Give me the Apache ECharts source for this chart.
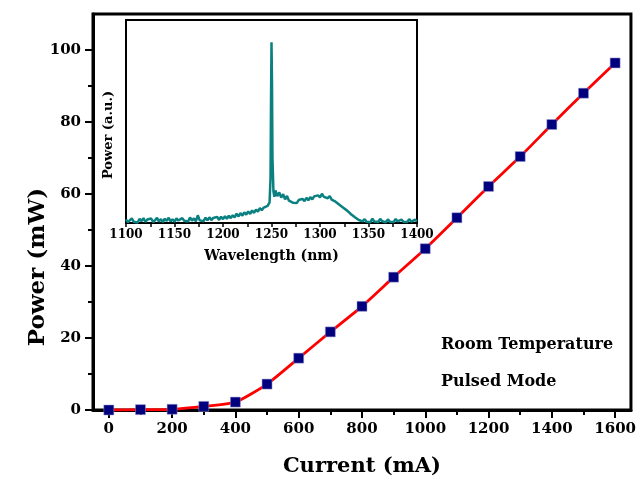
<!DOCTYPE html>
<html>
<head>
<meta charset="utf-8">
<script src="https://cdn.jsdelivr.net/npm/echarts@6/dist/echarts.min.js"></script>
<style>
  html, body { margin: 0; padding: 0; background: #fff; }
  #main { width: 639px; height: 486px; }
</style>
</head>
<body>
<div id="main"></div>
<script>
// L-I curve (main)
const current = [0, 100, 200, 300, 400, 500, 600, 700, 800, 900, 1000, 1100, 1200, 1300, 1400, 1500, 1600];
const power = [0, 0.1, 0.2, 1.0, 2.2, 7.2, 14.4, 21.7, 28.8, 36.9, 44.8, 53.4, 62.1, 70.4, 79.3, 88.0, 96.4];
const xMajorTicks = [0, 200, 400, 600, 800, 1000, 1200, 1400, 1600];
const xMinorTicks = [100, 300, 500, 700, 900, 1100, 1300, 1500];
const yMajorTicks = [0, 20, 40, 60, 80, 100];
const yMinorTicks = [10, 30, 50, 70, 90];

// inset spectrum
const wavelength = [
  1100, 1102, 1104, 1106, 1108, 1110, 1112, 1114, 1116, 1118, 1120, 1122, 1124, 1126, 1128, 1130,
  1132, 1134, 1136, 1138, 1140, 1142, 1144, 1146, 1148, 1150, 1152, 1154, 1156, 1158, 1160, 1162,
  1164, 1166, 1168, 1170, 1172, 1174, 1176, 1178, 1180, 1182, 1184, 1186, 1188, 1190, 1192, 1194,
  1196, 1198, 1200, 1202, 1204, 1206, 1208, 1210, 1212, 1214, 1216, 1218, 1220, 1222, 1224, 1226,
  1228, 1230, 1232, 1234, 1236, 1238, 1240, 1242, 1244, 1246, 1247, 1248, 1249, 1249.5, 1250, 1250.5,
  1251, 1252, 1253, 1254, 1256, 1258, 1260, 1262, 1264, 1266, 1268, 1270, 1272, 1274, 1276, 1278,
  1280, 1282, 1284, 1286, 1288, 1290, 1292, 1294, 1296, 1298, 1300, 1302, 1304, 1306, 1308, 1310,
  1312, 1314, 1316, 1318, 1320, 1322, 1324, 1326, 1328, 1330, 1332, 1334, 1336, 1338, 1340, 1342,
  1344, 1346, 1348, 1350, 1352, 1354, 1356, 1358, 1360, 1362, 1364, 1366, 1368, 1370, 1372, 1374,
  1376, 1378, 1380, 1382, 1384, 1386, 1388, 1390, 1392, 1394, 1396, 1398, 1400
];
const intensity = [
  1.8, 0.4, 1.2, 2.3, 0.6, 1.5, 0.3, 2.0, 0.9, 2.4, 0.5, 1.7, 0.8, 2.2, 0.4, 1.4,
  2.5, 0.7, 1.9, 0.5, 2.1, 1.0, 2.6, 0.8, 1.8, 0.6, 2.3, 1.2, 0.5, 2.4, 1.1, 2.0,
  0.7, 2.7, 1.2, 2.3, 0.8, 3.8, 1.3, 2.2, 0.9, 2.6, 1.3, 2.8, 1.4, 2.5, 1.6, 3.0,
  1.5, 3.1, 1.9, 3.3, 2.1, 3.6, 2.4, 3.8, 2.8, 4.6, 3.2, 4.9, 3.6, 5.3, 4.1, 5.7,
  4.5, 6.2, 5.0, 6.6, 5.6, 7.4, 6.3, 7.6, 6.8, 8.4, 8.6, 10.2, 22, 60, 89, 70,
  32, 15.5, 12.9, 16.0, 13.2, 15.1, 12.5, 14.2, 11.7, 13.3, 11.0, 11.8, 10.0, 10.9, 9.8, 11.3,
  10.4, 11.9, 10.8, 12.4, 11.2, 12.8, 11.6, 13.1, 12.2, 13.6, 12.6, 14.4, 12.9, 13.8, 12.2, 13.3,
  11.5, 12.2, 10.5, 11.0, 9.0, 9.6, 7.5, 8.0, 6.1, 6.3, 4.3, 4.9, 2.8, 3.1, 1.5, 2.2,
  0.8, 1.9, 0.6, 1.5, 0.4, 2.1, 0.7, 1.4, 0.5, 2.0, 0.9, 1.6, 0.4, 1.8, 0.6, 1.3,
  0.5, 2.0, 0.8, 0.4, 1.7, 0.6, 1.5, 0.5, 1.9, 0.7, 0.4, 1.6, 0.8
];

const font = 'DejaVu Serif';
const chart = echarts.init(document.getElementById('main'));

const liData = current.map((c, i) => [c, power[i]]);
const specData = wavelength.map((w, i) => [w, intensity[i]]);
const plain = v => String(v);

chart.setOption({
  backgroundColor: '#fff',
  animation: false,
  grid: [
    { left: 93, right: 8, top: 14, bottom: 76, show: true, borderColor: '#000', borderWidth: 3 },
    { left: 126, right: 222, top: 20, bottom: 263, show: true, borderColor: '#000', borderWidth: 2, backgroundColor: '#fff' }
  ],
  xAxis: [
    {
      gridIndex: 0, type: 'value', min: -50, max: 1650,
      axisLine: { onZero: false, lineStyle: { color: '#000', width: 3 } },
      axisTick: { customValues: xMajorTicks, length: 8, lineStyle: { color: '#000', width: 2 } },
      axisLabel: { customValues: xMajorTicks, formatter: plain, margin: 12, color: '#000', fontFamily: font, fontWeight: 'bold', fontSize: 15 },
      splitLine: { show: false },
      name: 'Current (mA)', nameLocation: 'middle', nameGap: 46,
      nameTextStyle: { color: '#000', fontFamily: font, fontWeight: 'bold', fontSize: 21 }
    },
    {
      gridIndex: 0, type: 'value', min: -50, max: 1650, position: 'bottom',
      axisLine: { show: false, onZero: false },
      axisTick: { customValues: xMinorTicks, length: 5, lineStyle: { color: '#000', width: 2 } },
      axisLabel: { show: false }, splitLine: { show: false }
    },
    {
      gridIndex: 1, type: 'value', min: 1100, max: 1400, interval: 50,
      axisLine: { onZero: false, lineStyle: { color: '#000', width: 2 } },
      axisTick: { length: 4, lineStyle: { color: '#000', width: 1.5 } },
      minorTick: { show: true, splitNumber: 2, length: 4, lineStyle: { color: '#000', width: 1.5 } },
      axisLabel: { formatter: plain, margin: 6, color: '#000', fontFamily: font, fontWeight: 'bold', fontSize: 12 },
      splitLine: { show: false },
      name: 'Wavelength (nm)', nameLocation: 'middle', nameGap: 26,
      nameTextStyle: { color: '#000', fontFamily: font, fontWeight: 'bold', fontSize: 14 }
    }
  ],
  yAxis: [
    {
      gridIndex: 0, type: 'value', min: 0, max: 110,
      axisLine: { onZero: false, lineStyle: { color: '#000', width: 3 } },
      axisTick: { customValues: yMajorTicks, length: 8, lineStyle: { color: '#000', width: 2 } },
      axisLabel: { customValues: yMajorTicks, formatter: plain, margin: 12, color: '#000', fontFamily: font, fontWeight: 'bold', fontSize: 15 },
      splitLine: { show: false }
    },
    {
      gridIndex: 0, type: 'value', min: 0, max: 110, position: 'left',
      axisLine: { show: false, onZero: false },
      axisTick: { customValues: yMinorTicks, length: 5, lineStyle: { color: '#000', width: 2 } },
      axisLabel: { show: false }, splitLine: { show: false }
    },
    {
      gridIndex: 1, type: 'value', min: 0, max: 100,
      axisLine: { onZero: false, lineStyle: { color: '#000', width: 2 } },
      axisTick: { show: false }, axisLabel: { show: false }, splitLine: { show: false }
    }
  ],
  graphic: [
    { type: 'text', rotation: Math.PI / 2, x: 38, y: 267, style: { text: 'Power (mW)', fill: '#000', font: 'bold 23px "DejaVu Serif"', textAlign: 'center', textVerticalAlign: 'middle' } },
    { type: 'text', rotation: Math.PI / 2, x: 109, y: 135, style: { text: 'Power (a.u.)', fill: '#000', font: 'bold 13px "DejaVu Serif"', textAlign: 'center', textVerticalAlign: 'middle' } },
    { type: 'text', x: 441, y: 345, style: { text: 'Room Temperature', fill: '#000', font: 'bold 16px "DejaVu Serif"', textVerticalAlign: 'middle' } },
    { type: 'text', x: 441, y: 382, style: { text: 'Pulsed Mode', fill: '#000', font: 'bold 16px "DejaVu Serif"', textVerticalAlign: 'middle' } }
  ],
  series: [
    {
      type: 'line', xAxisIndex: 0, yAxisIndex: 0, data: liData, smooth: 0.2,
      symbol: 'rect', symbolSize: 10,
      itemStyle: { color: '#00007f', borderColor: '#9a9ad0', borderWidth: 0.5 },
      lineStyle: { color: '#ff0000', width: 2.8 }
    },
    {
      type: 'line', xAxisIndex: 2, yAxisIndex: 2, data: specData,
      showSymbol: false, symbol: 'none',
      lineStyle: { color: '#0a8080', width: 2.5 }
    }
  ]
});
</script>
</body>
</html>
